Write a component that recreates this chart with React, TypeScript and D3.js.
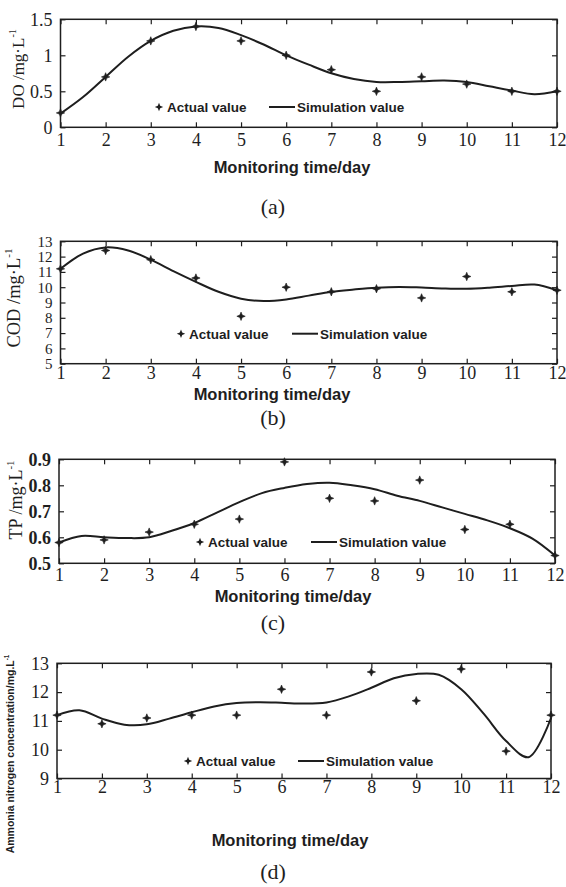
import React, { useEffect, useRef } from 'react';
import * as d3 from 'd3';

// monitoring days (actual samples) and the half-day grid the simulated curve was read on
const days = [1, 2, 3, 4, 5, 6, 7, 8, 9, 10, 11, 12];
const simDays = [1, 1.5, 2, 2.5, 3, 3.5, 4, 4.5, 5, 5.5, 6, 6.5, 7, 7.5, 8, 8.5, 9, 9.5, 10, 10.5, 11, 11.5, 12];

// (a) DO
const doActual = [0.2, 0.7, 1.2, 1.4, 1.2, 1.0, 0.8, 0.5, 0.7, 0.6, 0.5, 0.5];
const doSim = [0.19, 0.42, 0.7, 0.98, 1.2, 1.34, 1.4, 1.38, 1.28, 1.15, 1.0, 0.87, 0.75, 0.67, 0.63, 0.63, 0.64, 0.65, 0.63, 0.57, 0.51, 0.46, 0.5];
const doTicks = [0, 0.5, 1, 1.5];

// (b) COD
const codActual = [11.2, 12.4, 11.8, 10.6, 8.1, 10.0, 9.7, 9.9, 9.3, 10.7, 9.7, 9.8];
const codSim = [11.2, 12.2, 12.6, 12.4, 11.8, 11.05, 10.35, 9.7, 9.25, 9.1, 9.2, 9.45, 9.7, 9.85, 9.97, 10.02, 9.98, 9.92, 9.9, 9.97, 10.08, 10.17, 9.8];
const codTicks = [5, 6, 7, 8, 9, 10, 11, 12, 13];

// (c) TP
const tpActual = [0.58, 0.59, 0.62, 0.65, 0.67, 0.89, 0.75, 0.74, 0.82, 0.63, 0.65, 0.53];
const tpSim = [0.58, 0.605, 0.6, 0.597, 0.6, 0.625, 0.655, 0.695, 0.735, 0.77, 0.79, 0.805, 0.81, 0.8, 0.785, 0.76, 0.74, 0.715, 0.69, 0.665, 0.635, 0.595, 0.53];
const tpTicks = [0.5, 0.6, 0.7, 0.8, 0.9];

// (d) ammonia nitrogen
const nhActual = [11.2, 10.9, 11.1, 11.2, 11.2, 12.1, 11.2, 12.7, 11.7, 12.8, 9.95, 11.2];
const nhSim = [11.2, 11.37, 11.08, 10.87, 10.88, 11.08, 11.3, 11.5, 11.62, 11.65, 11.63, 11.6, 11.64, 11.85, 12.15, 12.48, 12.63, 12.6, 12.1, 11.25, 10.3, 9.74, 11.1];
const nhTicks = [9, 10, 11, 12, 13];

const ink = '#1e1e1e';
const serif = '"Liberation Serif", "Times New Roman", Times, serif';
const sans = '"Liberation Sans", Arial, Helvetica, sans-serif';
const starPath = 'M0,-4.2L1.2,-1.2L4.2,0L1.2,1.2L0,4.2L-1.2,1.2L-4.2,0L-1.2,-1.2Z';

const panels = [
  {
    actual: doActual, sim: doSim, domain: [0, 1.5], ticks: doTicks, tickFmt: (d) => String(d), tickBold: false, yTickSize: 18,
    left: 60.5, right: 557, top: 19.3, bottom: 127.3, xPad: 6,
    yLabel: 'DO /mg·L', yFont: serif, ySize: 17, yWeight: 'normal', yX: 18, yY: 69,
    legX: 159, legLineX: 269, legY: 107,
    titleX: 292, titleY: 173, caption: '(a)', capY: 214,
  },
  {
    actual: codActual, sim: codSim, domain: [5, 13], ticks: codTicks, tickFmt: (d) => String(d), tickBold: false, yTickSize: 15,
    left: 60.5, right: 557, top: 241.3, bottom: 363.7, xPad: 3,
    yLabel: 'COD /mg·L', yFont: serif, ySize: 18.5, yWeight: 'normal', yX: 14, yY: 298,
    legX: 181, legLineX: 292, legY: 333.7,
    titleX: 272, titleY: 400, caption: '(b)', capY: 425,
  },
  {
    actual: tpActual, sim: tpSim, domain: [0.5, 0.9], ticks: tpTicks, tickFmt: d3.format('.1f'), tickBold: true, yTickSize: 18,
    left: 59, right: 555, top: 459.3, bottom: 563.3, xPad: 4.5,
    yLabel: 'TP /mg·L', yFont: serif, ySize: 18, yWeight: 'normal', yX: 16, yY: 500,
    legX: 200, legLineX: 311, legY: 542,
    titleX: 293, titleY: 602, caption: '(c)', capY: 630,
  },
  {
    actual: nhActual, sim: nhSim, domain: [9, 13], ticks: nhTicks, tickFmt: (d) => String(d), tickBold: false, yTickSize: 18,
    left: 57, right: 551, top: 663.3, bottom: 778.5, xPad: 1.5,
    yLabel: 'Ammonia nitrogen concentration/mg.L', yFont: sans, ySize: 10.5, yWeight: 'bold', yX: 10, yY: 754,
    legX: 188, legLineX: 298, legY: 761,
    titleX: 290, titleY: 846, caption: '(d)', capY: 879,
  },
];

function styleAxis(a, bold, size) {
  a.select('.domain').remove();
  a.selectAll('line').attr('stroke', ink).attr('stroke-width', 1.2);
  a.selectAll('text')
    .attr('fill', ink)
    .style('font-family', serif)
    .style('font-size', `${size}px`)
    .style('font-weight', bold ? 'bold' : 'normal');
}

function drawPanel(svg, p) {
  const g = svg.append('g');
  const x = d3.scaleLinear().domain([1, 12]).range([p.left, p.right]);
  const y = d3.scaleLinear().domain(p.domain).range([p.bottom, p.top]);

  // inward ticks on all four sides, labels on bottom and left
  const bottomAxis = d3.axisBottom(x).tickValues(days).tickSize(-5).tickPadding(p.xPad).tickFormat(d3.format('d'));
  const topAxis = d3.axisTop(x).tickValues(days).tickSize(-5).tickFormat(() => '');
  const leftAxis = d3.axisLeft(y).tickValues(p.ticks).tickSize(-5).tickPadding(8).tickFormat(p.tickFmt);
  const rightAxis = d3.axisRight(y).tickValues(p.ticks).tickSize(-5).tickFormat(() => '');

  styleAxis(g.append('g').attr('transform', `translate(0,${p.bottom})`).call(bottomAxis), false, 18);
  styleAxis(g.append('g').attr('transform', `translate(0,${p.top})`).call(topAxis), false, 18);
  styleAxis(g.append('g').attr('transform', `translate(${p.left},0)`).call(leftAxis), p.tickBold, p.yTickSize);
  styleAxis(g.append('g').attr('transform', `translate(${p.right},0)`).call(rightAxis), false, 18);

  g.append('rect')
    .attr('x', p.left).attr('y', p.top)
    .attr('width', p.right - p.left).attr('height', p.bottom - p.top)
    .attr('fill', 'none').attr('stroke', ink).attr('stroke-width', 1.5);

  // simulated curve
  const line = d3.line()
    .x((d, i) => x(simDays[i]))
    .y((d) => y(d))
    .curve(d3.curveCatmullRom.alpha(0.5));
  g.append('path')
    .attr('d', line(p.sim))
    .attr('fill', 'none').attr('stroke', ink).attr('stroke-width', 2);

  // actual values
  g.selectAll('.pt')
    .data(p.actual)
    .join('path')
    .attr('class', 'pt')
    .attr('d', starPath)
    .attr('transform', (d, i) => `translate(${x(days[i])},${y(d)})`)
    .attr('fill', ink).attr('stroke', ink).attr('stroke-width', 0.6);

  // legend
  const leg = g.append('g')
    .style('font-family', sans).style('font-weight', 'bold').style('font-size', '13.5px')
    .attr('fill', ink);
  leg.append('path').attr('d', starPath).attr('transform', `translate(${p.legX},${p.legY})`).attr('fill', ink);
  leg.append('text').attr('x', p.legX + 8).attr('y', p.legY + 5).text('Actual value');
  leg.append('line')
    .attr('x1', p.legLineX).attr('x2', p.legLineX + 26)
    .attr('y1', p.legY).attr('y2', p.legY)
    .attr('stroke', ink).attr('stroke-width', 2);
  leg.append('text').attr('x', p.legLineX + 28).attr('y', p.legY + 5).text('Simulation value');

  // y label with superscript
  const yl = g.append('text')
    .attr('transform', `translate(${p.yX},${p.yY}) rotate(-90)`)
    .attr('text-anchor', 'middle')
    .attr('dy', '0.35em')
    .style('font-family', p.yFont).style('font-size', `${p.ySize}px`).style('font-weight', p.yWeight)
    .attr('fill', ink);
  yl.append('tspan').text(p.yLabel);
  yl.append('tspan').attr('dy', `${-0.45 * p.ySize}`).style('font-size', `${p.ySize * 0.6}px`).text('-1');

  // x title and caption
  g.append('text')
    .attr('x', p.titleX).attr('y', p.titleY)
    .attr('text-anchor', 'middle')
    .style('font-family', sans).style('font-weight', 'bold').style('font-size', '16.5px')
    .attr('fill', ink)
    .text('Monitoring time/day');
  g.append('text')
    .attr('x', 273).attr('y', p.capY)
    .attr('text-anchor', 'middle')
    .style('font-family', serif).style('font-size', '22px')
    .attr('fill', ink)
    .text(p.caption);
}

export default function App() {
  const ref = useRef(null);

  useEffect(() => {
    const svg = d3.select(ref.current);
    svg.selectAll('*').remove();
    svg.append('rect').attr('width', 566).attr('height', 887).attr('fill', '#fff');
    panels.forEach((p) => drawPanel(svg, p));
  }, []);

  return (
    <div style={{ position: 'absolute', left: 0, top: 0 }}>
      <svg ref={ref} width={566} height={887} style={{ display: 'block' }} />
    </div>
  );
}
